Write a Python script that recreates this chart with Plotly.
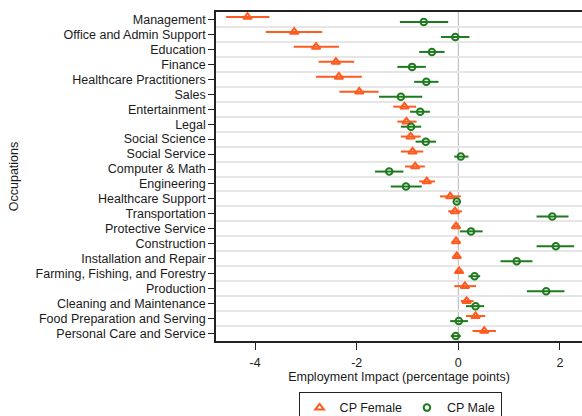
import numpy as np
import plotly.graph_objects as go

# Occupations, listed top to bottom
occupations = [
    "Management", "Office and Admin Support", "Education", "Finance",
    "Healthcare Practitioners", "Sales", "Entertainment", "Legal",
    "Social Science", "Social Service", "Computer & Math", "Engineering",
    "Healthcare Support", "Transportation", "Protective Service",
    "Construction", "Installation and Repair",
    "Farming, Fishing, and Forestry", "Production",
    "Cleaning and Maintenance", "Food Preparation and Serving",
    "Personal Care and Service",
]

# Point estimates and confidence bounds (percentage points)
female_est = [-4.15, -3.23, -2.80, -2.41, -2.35, -1.95, -1.06, -1.02, -0.94,
              -0.90, -0.85, -0.62, -0.16, -0.065, -0.045, -0.045, -0.03,
              0.015, 0.13, 0.165, 0.34, 0.51]
female_lo = [-4.57, -3.79, -3.24, -2.75, -2.80, -2.34, -1.28, -1.20, -1.13,
             -1.13, -1.05, -0.77, -0.36, -0.20, -0.11, -0.10, -0.10,
             -0.05, -0.08, 0.05, 0.15, 0.28]
female_hi = [-3.72, -2.68, -2.35, -2.05, -1.90, -1.57, -0.83, -0.82, -0.74,
             -0.69, -0.66, -0.46, 0.05, 0.07, 0.02, 0.01, 0.03,
             0.07, 0.35, 0.30, 0.53, 0.74]

male_est = [-0.68, -0.06, -0.52, -0.91, -0.63, -1.13, -0.75, -0.93, -0.64,
            0.05, -1.36, -1.03, -0.03, 1.85, 0.25, 1.92, 1.15,
            0.32, 1.73, 0.34, 0.01, -0.05]
male_lo = [-1.15, -0.34, -0.77, -1.20, -0.87, -1.56, -0.95, -1.13, -0.84,
           -0.08, -1.64, -1.33, -0.06, 1.54, 0.03, 1.54, 0.83,
           0.20, 1.35, 0.15, -0.16, -0.15]
male_hi = [-0.20, 0.22, -0.27, -0.64, -0.39, -0.71, -0.56, -0.73, -0.44,
           0.20, -1.08, -0.72, 0.00, 2.17, 0.48, 2.28, 1.46,
           0.43, 2.09, 0.51, 0.19, 0.05]

x_ticks = [-4, -2, 0, 2]

FEMALE = "#ff5a1f"
MALE = "#1f7a1f"
FONT = "Liberation Sans, Arial, sans-serif"

pos = np.arange(len(occupations))
fe, flo, fhi = map(np.array, (female_est, female_lo, female_hi))
me, mlo, mhi = map(np.array, (male_est, male_lo, male_hi))

fig = go.Figure()

# zero reference line
fig.add_vline(x=0, line=dict(color="#b4b4b4", width=1), layer="below")

fig.add_trace(go.Scatter(
    x=fe, y=pos - 0.17, mode="markers", name="CP Female",
    marker=dict(symbol="triangle-up-open", size=7.5, color=FEMALE,
                line=dict(width=2, color=FEMALE)),
    error_x=dict(type="data", symmetric=False, array=fhi - fe,
                 arrayminus=fe - flo, width=0, thickness=2, color=FEMALE),
))
fig.add_trace(go.Scatter(
    x=me, y=pos + 0.17, mode="markers", name="CP Male",
    marker=dict(symbol="circle-open", size=6.5, color=MALE,
                line=dict(width=2, color=MALE)),
    error_x=dict(type="data", symmetric=False, array=mhi - me,
                 arrayminus=me - mlo, width=0, thickness=2, color=MALE),
))

fig.update_layout(
    width=582, height=416,
    margin=dict(l=216, r=0, t=11.5, b=74.5, autoexpand=False),
    paper_bgcolor="white", plot_bgcolor="white",
    font=dict(family=FONT, size=12.5, color="#1a1a1a"),
    showlegend=True,
    legend=dict(
        orientation="h", x=0.503, xanchor="center", y=-0.155, yanchor="top",
        bordercolor="#222", borderwidth=1, bgcolor="white",
        font=dict(size=12.5), itemwidth=30, tracegroupgap=0,
    ),
    xaxis=dict(
        range=[-4.77, 2.435], tickvals=x_ticks,
        ticktext=[str(v) for v in x_ticks],
        showgrid=False, zeroline=False,
        showline=True, linecolor="#222", linewidth=1.5, mirror=True,
        ticks="outside", ticklen=7, tickcolor="#222",
        ticklabelstandoff=2,
        title=dict(text="Employment Impact (percentage points)",
                   standoff=2, font=dict(size=12.5)),
    ),
    yaxis=dict(
        range=[21.5, -0.5], tickvals=pos, ticktext=occupations,
        showgrid=False, zeroline=False,
        showline=True, linecolor="#222", linewidth=1.5,
        ticks="outside", ticklen=6, tickcolor="#222",
        minor=dict(tick0=0.5, dtick=1, showgrid=True, gridcolor="#e6e6e6",
                   gridwidth=2, ticks=""),
        title=dict(text="Occupations", standoff=14, font=dict(size=12.5)),
    ),
)

fig.write_html("out.html")
